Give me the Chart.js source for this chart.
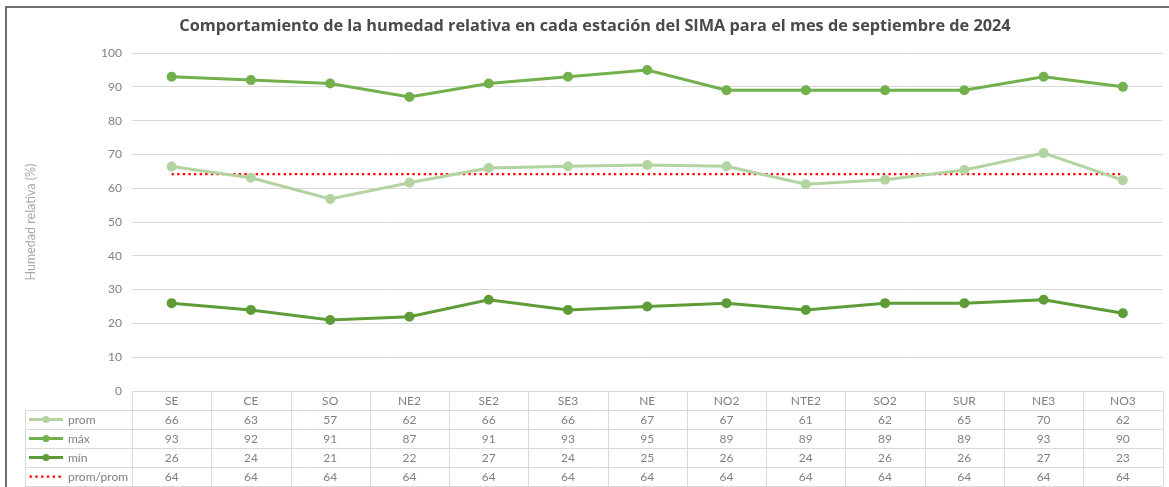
<!DOCTYPE html>
<html>
<head>
<meta charset="utf-8">
<script src="https://cdn.jsdelivr.net/npm/chart.js@4"></script>
<style>
html,body{margin:0;padding:0;background:#fff;}
#wrap{position:relative;width:1169px;height:487px;}
canvas{display:block;}
</style>
</head>
<body>
<div id="wrap"><canvas id="c" width="1169" height="487"></canvas></div>
<script>
const categories = ['SE','CE','SO','NE2','SE2','SE3','NE','NO2','NTE2','SO2','SUR','NE3','NO3'];
const promValues = [66.4, 63.1, 56.8, 61.6, 66.0, 66.5, 66.9, 66.5, 61.2, 62.5, 65.4, 70.4, 62.4];
const maxValues  = [93, 92, 91, 87, 91, 93, 95, 89, 89, 89, 89, 93, 90];
const minValues  = [26, 24, 21, 22, 27, 24, 25, 26, 24, 26, 26, 27, 23];
const promPromValues = [64.2, 64.2, 64.2, 64.2, 64.2, 64.2, 64.2, 64.2, 64.2, 64.2, 64.2, 64.2, 64.2];
const promTable = [66, 63, 57, 62, 66, 66, 67, 67, 61, 62, 65, 70, 62];
const promPromTable = [64, 64, 64, 64, 64, 64, 64, 64, 64, 64, 64, 64, 64];
const yTicks = [0,10,20,30,40,50,60,70,80,90,100];

const C_PROM = '#b3d3a0', C_MAX = '#72b04c', C_MIN = '#5e9c38', C_RED = '#ff0000';
const GRID = '#d9d9d9', TXT = '#808080';
const FONT = 'Lato, "Open Sans", sans-serif';

const tablePlugin = {
  id: 'dataTable',
  afterDraw(chart) {
    const ctx = chart.ctx, ca = chart.chartArea, xs = chart.scales.x;
    const n = categories.length;
    const colW = (ca.right - ca.left) / n;
    const rowH = 19;
    const top = ca.bottom;
    const legendLeft = 25;
    const rows = [
      {label:'prom', color:C_PROM, vals:promTable, type:'line'},
      {label:'máx', color:C_MAX, vals:maxValues, type:'line'},
      {label:'mín', color:C_MIN, vals:minValues, type:'line'},
      {label:'prom/prom', color:C_RED, vals:promPromTable, type:'dot'}
    ];
    const bottom = top + rowH * (rows.length + 1);
    ctx.save();
    ctx.strokeStyle = GRID; ctx.lineWidth = 1;
    ctx.beginPath();
    ctx.moveTo(ca.left, top + 0.5); ctx.lineTo(ca.right, top + 0.5);
    for (let r = 1; r <= rows.length + 1; r++) {
      const y = Math.round(top + r * rowH) + 0.5;
      ctx.moveTo(legendLeft, y); ctx.lineTo(ca.right, y);
    }
    for (let i = 0; i <= n; i++) {
      const x = Math.round(ca.left + i * colW) + 0.5;
      ctx.moveTo(x, top); ctx.lineTo(x, bottom);
    }
    ctx.moveTo(legendLeft + 0.5, top + rowH); ctx.lineTo(legendLeft + 0.5, bottom);
    ctx.stroke();

    ctx.fillStyle = TXT;
    ctx.font = '12px ' + FONT;
    ctx.textAlign = 'center'; ctx.textBaseline = 'middle';
    for (let i = 0; i < n; i++) {
      const cx = xs.getPixelForValue(i);
      ctx.fillText(categories[i], cx, top + rowH / 2 + 1);
      rows.forEach((row, r) => {
        ctx.fillText(String(row.vals[i]), cx, top + (r + 1.5) * rowH + 1);
      });
    }
    rows.forEach((row, r) => {
      const cy = top + (r + 1.5) * rowH;
      if (row.type === 'line') {
        ctx.strokeStyle = row.color; ctx.lineWidth = 3;
        ctx.beginPath(); ctx.moveTo(29, cy); ctx.lineTo(63, cy); ctx.stroke();
        ctx.fillStyle = row.color;
        ctx.beginPath(); ctx.arc(46, cy, 3.5, 0, Math.PI * 2); ctx.fill();
      } else {
        ctx.fillStyle = row.color;
        for (let k = 0; k < 6; k++) {
          ctx.fillRect(29.5 + k * 5.8, cy - 1, 2.3, 2.3);
        }
      }
      ctx.fillStyle = TXT; ctx.textAlign = 'left';
      ctx.fillText(row.label, 68, cy + 1);
      ctx.textAlign = 'center';
    });
    ctx.strokeStyle = '#404040'; ctx.lineWidth = 1.5;
    ctx.beginPath();
    ctx.moveTo(6, 490); ctx.lineTo(6, 7); ctx.lineTo(1175, 7);
    ctx.stroke();
    ctx.restore();
  }
};

new Chart(document.getElementById('c'), {
  type: 'line',
  data: {
    labels: categories,
    datasets: [
      {label:'prom', data: promValues, borderColor: C_PROM, backgroundColor: C_PROM, borderWidth: 3, pointRadius: 3.5, pointHoverRadius: 3.5, tension: 0},
      {label:'máx', data: maxValues, borderColor: C_MAX, backgroundColor: C_MAX, borderWidth: 3, pointRadius: 3.5, pointHoverRadius: 3.5, tension: 0},
      {label:'mín', data: minValues, borderColor: C_MIN, backgroundColor: C_MIN, borderWidth: 3, pointRadius: 3.5, pointHoverRadius: 3.5, tension: 0},
      {label:'prom/prom', data: promPromValues, borderColor: C_RED, backgroundColor: C_RED, borderWidth: 2.3, borderDash: [2.3, 3.3], pointRadius: 0, tension: 0}
    ]
  },
  options: {
    responsive: false,
    animation: false,
    layout: { padding: { left: 23, right: 2, bottom: 96, top: 0 } },
    plugins: {
      legend: { display: false },
      tooltip: { enabled: false },
      title: {
        display: true,
        text: 'Comportamiento de la humedad relativa en cada estación del SIMA para el mes de septiembre de 2024',
        color: '#4a4a4a',
        font: { family: '"Open Sans", sans-serif', size: 16.3, weight: 'bold', lineHeight: 1.2 },
        padding: { top: 17, bottom: 16.5 }
      }
    },
    scales: {
      x: { display: false, offset: true },
      y: {
        min: 0, max: 100,
        afterBuildTicks(scale) { scale.ticks = yTicks.map(v => ({value: v})); },
        afterFit(scale) { scale.width = 109; },
        border: { display: false },
        grid: { color: GRID, drawTicks: false, lineWidth: 1 },
        ticks: { color: TXT, font: { family: FONT, size: 12 }, padding: 10 },
        title: { display: true, text: 'Humedad relativa (%)', color: '#a6a6a6', font: { family: FONT, size: 12.5 }, padding: { top: 0, bottom: 0 } }
      }
    }
  },
  plugins: [tablePlugin]
});
</script>
</body>
</html>
